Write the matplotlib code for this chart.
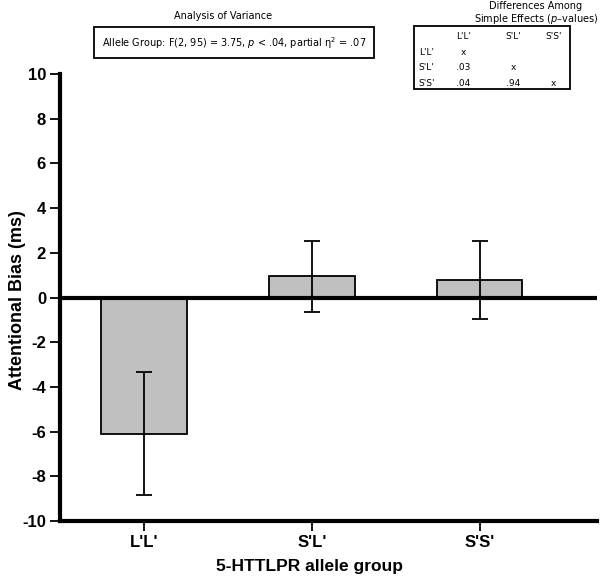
import matplotlib
matplotlib.use('Agg')
import matplotlib.pyplot as plt
import numpy as np

plt.rcParams['font.family'] = ['Liberation Sans', 'DejaVu Sans']
plt.rcParams['axes.unicode_minus'] = False

# bar data
groups = ["L'L'", "S'L'", "S'S'"]
means = [-6.1, 0.95, 0.78]
errors = [2.75, 1.58, 1.76]

# simple effects table (p-values)
table_cols = ["L'L'", "S'L'", "S'S'"]
table_rows = [["x", "", ""],
              [".03", "x", ""],
              [".04", ".94", "x"]]

anova_text = r"Allele Group: F(2, 95) = 3.75, $\it{p}$ < .04, partial $\mathregular{\eta^2}$ = .07"

fig = plt.figure(figsize=(6, 5.76), dpi=100)
ax = fig.add_axes([0.1, 0.0955, 0.895, 0.776])

x = np.arange(len(groups))
ax.bar(x, means, width=0.51, color='#c0c0c0', edgecolor='black', linewidth=1.3, zorder=2)
ax.errorbar(x, means, yerr=errors, fmt='none', ecolor='black', elinewidth=1.3,
            capsize=6, capthick=1.3, zorder=3)
ax.axhline(0, color='black', linewidth=3, zorder=4)

ax.set_xlim(-0.5, 2.7)
ax.set_ylim(-10, 10)
ax.set_yticks(np.arange(-10, 11, 2))
ax.set_xticks(x)
ax.set_xticklabels(groups)

for s in ['top', 'right']:
    ax.spines[s].set_visible(False)
ax.spines['left'].set_linewidth(3)
ax.spines['bottom'].set_linewidth(3)
ax.tick_params(axis='both', direction='out', length=7, width=1.3, labelsize=12, pad=3)
for lab in ax.get_xticklabels() + ax.get_yticklabels():
    lab.set_fontweight('bold')

ax.set_ylabel('Attentional Bias (ms)', fontsize=13, fontweight='bold')
ax.yaxis.set_label_coords(-0.064, 0.495)
ax.set_xlabel('5-HTTLPR allele group', fontsize=12.5, fontweight='bold')
ax.xaxis.set_label_coords(0.465, -0.085)

# ANOVA box
fig.text(0.372, 0.972, 'Analysis of Variance', fontsize=7, ha='center', va='center',
         family='DejaVu Sans')
fig.text(0.39, 0.926, anova_text, fontsize=7, ha='center', va='center', family='DejaVu Sans',
         bbox=dict(boxstyle='square,pad=0.75', facecolor='white', edgecolor='black', linewidth=1.3))

# simple effects box
fig.text(0.893, 0.99, 'Differences Among', fontsize=7, ha='center', va='center',
         family='DejaVu Sans')
fig.text(0.893, 0.967, r'Simple Effects ($\it{p}$–values)', fontsize=7, ha='center',
         va='center', family='DejaVu Sans')
box = plt.Rectangle((0.69, 0.846), 0.26, 0.108, transform=fig.transFigure,
                    facecolor='white', edgecolor='black', linewidth=1.3)
fig.patches.append(box)
col_x = [0.772, 0.855, 0.923]
row_y = [0.909, 0.882, 0.855]
head_y = 0.937
for cx, name in zip(col_x, table_cols):
    fig.text(cx, head_y, name, fontsize=6.5, ha='center', va='center', family='DejaVu Sans')
for ry, name, vals in zip(row_y, table_cols, table_rows):
    fig.text(0.698, ry, name, fontsize=6.5, ha='left', va='center', family='DejaVu Sans')
    for cx, v in zip(col_x, vals):
        fig.text(cx, ry, v, fontsize=6.5, ha='center', va='center', family='DejaVu Sans')

fig.savefig('out.png', dpi=100)
